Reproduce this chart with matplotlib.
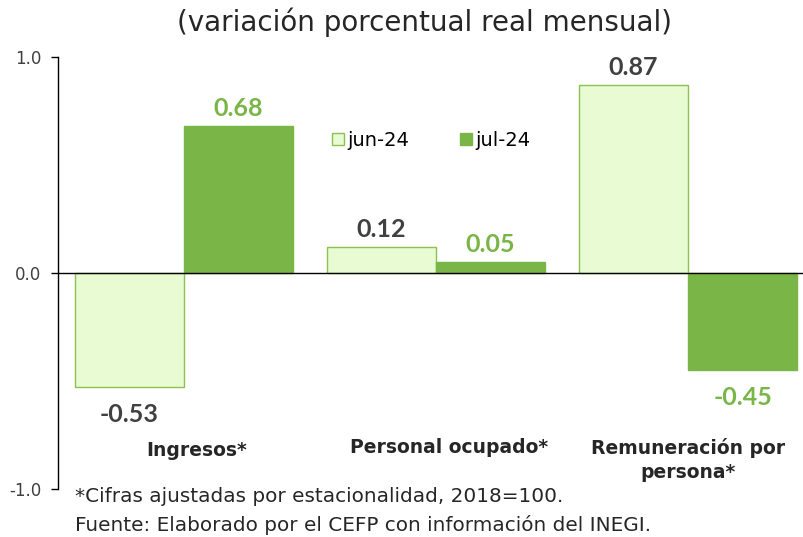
import matplotlib.pyplot as plt
import numpy as np

categorias = ["Ingresos*", "Personal ocupado*", "Remuneración por\npersona*"]
jun_24 = [-0.53, 0.12, 0.87]
jul_24 = [0.68, 0.05, -0.45]
series = ["jun-24", "jul-24"]

verde_claro = "#E8FBD2"
verde_borde = "#8CC152"
verde = "#7AB547"
gris = "#404040"

plt.rcParams['font.family'] = ['DejaVu Sans']

fig = plt.figure(figsize=(8.04, 5.37), dpi=100)
ax = fig.add_axes([0.0721, 0.0894, 0.928, 0.8045])

x = np.arange(len(categorias))
w = 0.433
ax.bar(x - w / 2, jun_24, w, color=verde_claro, edgecolor=verde_borde, linewidth=1, label=series[0])
ax.bar(x + w / 2, jul_24, w, color=verde, edgecolor=verde, linewidth=1, label=series[1])

# etiquetas de valor
for xi, v in zip(x - w / 2, jun_24):
    off = 0.08 if v >= 0 else -0.125
    ax.text(xi, v + off, "%.2f" % v, ha='center', va='center', fontsize=18,
            fontweight='bold', color=gris, family='Lato')
for xi, v in zip(x + w / 2, jul_24):
    off = 0.08 if v >= 0 else -0.125
    ax.text(xi, v + off, "%.2f" % v, ha='center', va='center', fontsize=18,
            fontweight='bold', color=verde, family='Lato')

# etiquetas de categoria
cat_x = [0.05, 1.05, 2.0]
cat_y = [-0.82, -0.81, -0.865]
for xi, c, yy in zip(cat_x, categorias, cat_y):
    ax.text(xi, yy, c, ha='center', va='center', fontsize=13.5, fontweight='bold',
            color="#262626", linespacing=1.35)

ax.set_xlim(-0.5, 2.46)
ax.set_ylim(-1.0, 1.0)
ax.set_yticks([-1.0, 0.0, 1.0])
ax.set_yticklabels(["-1.0", "0.0", "1.0"], fontsize=12, color=gris)
ax.set_xticks([])
ax.axhline(0, color="black", linewidth=1)
for s in ['top', 'right', 'bottom']:
    ax.spines[s].set_visible(False)
ax.spines['left'].set_linewidth(1)
ax.tick_params(axis='y', direction='out', length=5, width=1, pad=7)

ax.legend(loc='upper left', bbox_to_anchor=(0.344, 0.87), ncol=2, frameon=False,
          fontsize=14, handlelength=0.6, handleheight=0.6, handletextpad=0.2,
          columnspacing=2.6)

fig.text(0.528, 0.958, "(variación porcentual real mensual)", ha='center', va='center',
         fontsize=20, color="#262626")
fig.text(0.093, 0.075, "*Cifras ajustadas por estacionalidad, 2018=100.", ha='left',
         va='center', fontsize=14.4, color="#262626")
fig.text(0.093, 0.022, "Fuente: Elaborado por el CEFP con información del INEGI.", ha='left',
         va='center', fontsize=14.4, color="#262626")

fig.savefig("out.png", dpi=100)
